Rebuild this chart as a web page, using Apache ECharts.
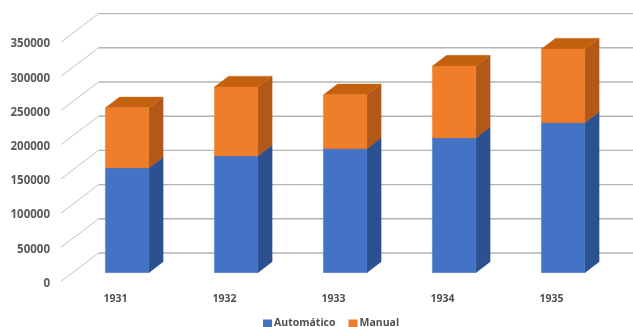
<!DOCTYPE html>
<html>
<head>
<meta charset="utf-8">
<style>html,body{margin:0;padding:0;background:#fff}#c{width:633px;height:327px}</style>
<script src="https://cdn.jsdelivr.net/npm/echarts@6/dist/echarts.min.js"></script>
</head>
<body>
<div id="c"></div>
<script>
const categories = ['1931', '1932', '1933', '1934', '1935'];
const automatico = [153000, 170500, 181000, 197000, 219000];
const manual = [88000, 101000, 79000, 105000, 108000];
const yTicks = [0, 50000, 100000, 150000, 200000, 250000, 300000, 350000];

const DEPTH_X = 37.5, DEPTH_Y = 28.5;
const NEAR = 0.31, FAR = 0.69;
const BAR_RATIO = 0.4;

const chart = echarts.init(document.getElementById('c'), null, { renderer: 'canvas' });

function gridRender(params, api) {
  const cs = params.coordSys;
  const y = api.coord([0, api.value(1)])[1];
  const x0 = cs.x, x1 = cs.x + DEPTH_X, x2 = cs.x + cs.width + DEPTH_X, y1 = y - DEPTH_Y;
  return {
    type: 'group',
    children: [
      { type: 'line', shape: { x1: x0, y1: y, x2: x1, y2: y1 }, style: { stroke: '#c4c4c4', lineWidth: 1 } },
      { type: 'line', shape: { x1: x1, y1: y1, x2: x2, y2: y1 }, style: { stroke: '#b4b4b4', lineWidth: 1.4 } }
    ]
  };
}

function barRender(colors) {
  return function (params, api) {
    const i = api.value(0);
    const lo = api.coord([i, api.value(1)]);
    const hi = api.coord([i, api.value(2)]);
    const w = api.size([1, 0])[0] * BAR_RATIO;
    const xl = lo[0] - w / 2 + DEPTH_X * NEAR, xr = xl + w;
    const yb = lo[1] - DEPTH_Y * NEAR, yt = hi[1] - DEPTH_Y * NEAR;
    const dx = DEPTH_X * (FAR - NEAR), dy = DEPTH_Y * (FAR - NEAR);
    const poly = (points, fill) => ({
      type: 'polygon', shape: { points }, style: { fill, stroke: fill, lineWidth: 0.3 }
    });
    return {
      type: 'group',
      children: [
        poly([[xr, yb], [xr + dx, yb - dy], [xr + dx, yt - dy], [xr, yt]], colors.side),
        poly([[xl, yt], [xr, yt], [xr + dx, yt - dy], [xl + dx, yt - dy]], colors.top),
        poly([[xl, yb], [xr, yb], [xr, yt], [xl, yt]], colors.front)
      ]
    };
  };
}

const blue = { front: '#4472c4', side: '#2c5190', top: '#3a62a8' };
const orange = { front: '#ef7d29', side: '#b2591a', top: '#c4610f' };

chart.setOption({
  animation: false,
  backgroundColor: '#ffffff',
  grid: { left: 61, top: 42.1, width: 545, height: 239.4, containLabel: false },
  xAxis: {
    type: 'category', data: categories,
    axisLine: { show: false }, axisTick: { show: false }, splitLine: { show: false },
    axisLabel: { margin: 12, fontFamily: '"Open Sans"', fontWeight: 'bold', color: '#505050', fontSize: 10.5 }
  },
  yAxis: {
    type: 'value', min: 0, max: 350000, interval: 50000,
    axisLine: { show: false }, axisTick: { show: false }, splitLine: { show: false },
    axisLabel: {
      margin: 11, formatter: v => String(v), verticalAlign: 'top', lineHeight: 4,
      fontFamily: '"Open Sans"', fontWeight: 'bold', color: '#595959', fontSize: 11.5
    }
  },
  legend: {
    left: 263, top: 318, padding: 0, itemWidth: 9, itemHeight: 8, itemGap: 13,
    icon: 'rect', data: ['Automático', 'Manual'],
    textStyle: { fontFamily: '"Open Sans"', fontSize: 10.5, fontWeight: 'bold', color: '#505050', padding: [0, 0, 0, -3] }
  },
  series: [
    {
      type: 'custom', silent: true, z: 1,
      data: yTicks.map(v => [0, v]), encode: { x: 0, y: 1 },
      renderItem: gridRender
    },
    {
      name: 'Automático', type: 'custom', z: 2,
      itemStyle: { color: blue.front },
      data: automatico.map((v, i) => [i, 0, v]), encode: { x: 0, y: [1, 2] },
      renderItem: barRender(blue)
    },
    {
      name: 'Manual', type: 'custom', z: 3,
      itemStyle: { color: orange.front },
      data: manual.map((v, i) => [i, automatico[i], automatico[i] + v]), encode: { x: 0, y: [1, 2] },
      renderItem: barRender(orange)
    }
  ]
});
</script>
</body>
</html>
